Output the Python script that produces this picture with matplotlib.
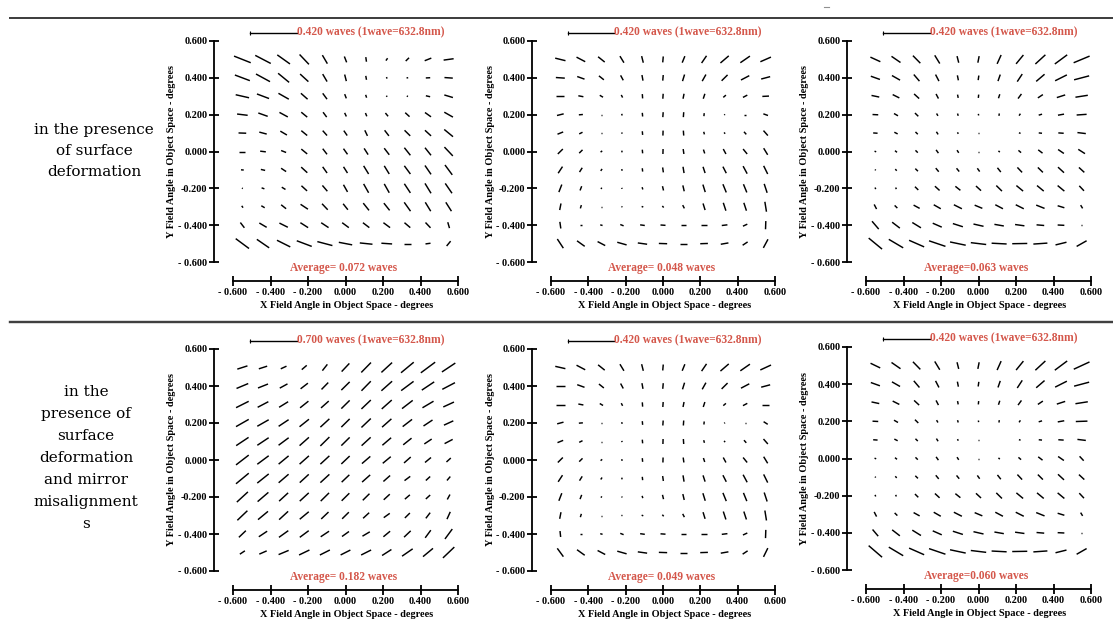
import matplotlib
matplotlib.use("Agg")
import matplotlib.pyplot as plt
import numpy as np
from matplotlib.collections import LineCollection
from matplotlib.lines import Line2D

# ---------------- data ----------------
X_FIELD = [-0.55, -0.44, -0.33, -0.22, -0.11, 0.0, 0.11, 0.22, 0.33, 0.44, 0.55]
Y_FIELD = [0.5, 0.4, 0.3, 0.2, 0.1, 0.0, -0.1, -0.2, -0.3, -0.4, -0.5]
TICKS = [-0.6, -0.4, -0.2, 0.0, 0.2, 0.4, 0.6]
X_TICK_LABELS = ["- 0.600", "- 0.400", "- 0.200", "0.000", "0.200", "0.400", "0.600"]
Y_TICK_LABELS = ["- 0.600", "- 0.400", "-0.200", "0.000", "0.200", "0.400", "0.600"]
SCALE_WAVES = [0.420, 0.420, 0.420, 0.700, 0.420, 0.420]
AVERAGES = ["Average= 0.072 waves", "Average= 0.048 waves", "Average=0.063 waves",
            "Average= 0.182 waves", "Average= 0.049 waves", "Average=0.060 waves"]
ROW_LABELS = ["in the presence\nof surface\ndeformation",
              "in the\npresence of\nsurface\ndeformation\nand mirror\nmisalignment\ns"]
X_LABEL = "X Field Angle in Object Space - degrees"
Y_LABEL = "Y Field Angle in Object Space - degrees"

# magnitudes (waves) and orientation (deg), rows top (y=0.5) -> bottom (y=-0.5)
P1_LEN = [
    [0.164, 0.160, 0.143, 0.125, 0.091, 0.058, 0.043, 0.027, 0.043, 0.065, 0.092],
    [0.146, 0.146, 0.131, 0.103, 0.080, 0.063, 0.037, 0.015, 0.015, 0.040, 0.076],
    [0.125, 0.118, 0.109, 0.082, 0.067, 0.042, 0.028, 0.012, 0.012, 0.040, 0.082],
    [0.097, 0.091, 0.087, 0.071, 0.056, 0.037, 0.033, 0.039, 0.054, 0.068, 0.091],
    [0.070, 0.070, 0.070, 0.070, 0.060, 0.055, 0.057, 0.065, 0.073, 0.076, 0.104],
    [0.055, 0.052, 0.049, 0.070, 0.065, 0.064, 0.068, 0.076, 0.089, 0.089, 0.112],
    [0.025, 0.040, 0.055, 0.076, 0.070, 0.068, 0.088, 0.088, 0.094, 0.099, 0.113],
    [0.009, 0.027, 0.040, 0.070, 0.070, 0.076, 0.094, 0.094, 0.101, 0.107, 0.110],
    [0.021, 0.036, 0.058, 0.081, 0.076, 0.070, 0.085, 0.085, 0.100, 0.096, 0.097],
    [0.061, 0.078, 0.086, 0.084, 0.081, 0.076, 0.074, 0.076, 0.070, 0.067, 0.057],
    [0.152, 0.137, 0.136, 0.146, 0.142, 0.124, 0.116, 0.098, 0.067, 0.046, 0.058],
]
P1_ANG = [
    [-22, -28, -36, -47, -60, -69, -82, 55, 45, 22, 8],
    [-21, -29, -40, -43, -60, -76, -80, -70, 10, 3, -4],
    [-13, -21, -30, -42, -54, -69, -72, -55, -30, -13, -17],
    [-7, -20, -29, -40, -54, -65, -68, -51, -43, -36, -30],
    [-2, -15, -31, -40, -49, -56, -65, -53, -45, -43, -40],
    [0, -7, -22, -40, -53, -55, -58, -53, -52, -52, -47],
    [-5, -13, -34, -43, -55, -58, -59, -59, -54, -56, -54],
    [-30, -20, -32, -43, -50, -61, -61, -61, -57, -59, -56],
    [-55, -31, -39, -34, -47, -52, -52, -52, -55, -59, -58],
    [-53, -31, -27, -33, -34, -37, -38, -37, -41, -47, -74],
    [-37, -35, -27, -21, -15, -11, -6, -4, 0, 8, 51],
]

P2_LEN = [
    [0.097, 0.090, 0.078, 0.071, 0.063, 0.055, 0.065, 0.081, 0.101, 0.107, 0.106],
    [0.082, 0.071, 0.058, 0.052, 0.053, 0.052, 0.064, 0.070, 0.077, 0.086, 0.085],
    [0.076, 0.047, 0.035, 0.027, 0.040, 0.046, 0.047, 0.048, 0.032, 0.045, 0.061],
    [0.063, 0.037, 0.009, 0.016, 0.034, 0.046, 0.046, 0.028, 0.009, 0.021, 0.045],
    [0.056, 0.034, 0.009, 0.012, 0.034, 0.046, 0.046, 0.025, 0.015, 0.032, 0.061],
    [0.065, 0.043, 0.019, 0.016, 0.034, 0.046, 0.046, 0.038, 0.052, 0.059, 0.071],
    [0.073, 0.047, 0.022, 0.016, 0.031, 0.046, 0.059, 0.061, 0.068, 0.079, 0.084],
    [0.075, 0.042, 0.014, 0.010, 0.022, 0.041, 0.056, 0.073, 0.082, 0.082, 0.087],
    [0.062, 0.032, 0.006, 0.010, 0.016, 0.019, 0.034, 0.064, 0.077, 0.077, 0.093],
    [0.062, 0.012, 0.022, 0.033, 0.043, 0.046, 0.046, 0.049, 0.052, 0.044, 0.076],
    [0.101, 0.087, 0.079, 0.089, 0.086, 0.076, 0.067, 0.070, 0.071, 0.055, 0.090],
]
P2_ANG = [
    [-14, -28, -39, -59, -76, 85, 68, 56, 41, 35, 24],
    [-4, -20, -39, -62, -80, 85, 73, 61, 45, 28, 15],
    [0, -11, -31, -63, -86, 86, 79, 72, 41, 28, 3],
    [14, 5, 0, -75, -85, 86, 86, 84, 45, 0, -20],
    [22, 27, 0, -75, -85, 88, -86, -75, -53, -49, -49],
    [45, 45, 39, -79, -85, 88, -82, -72, -62, -51, -59],
    [57, 58, 56, -79, -84, -82, -81, -72, -63, -62, -64],
    [69, 69, 63, -70, -74, -77, -77, -73, -68, -68, -72],
    [79, 73, 0, -20, -22, -51, -63, -73, -72, -72, -81],
    [-82, 0, -16, -22, -8, -4, 0, 0, 7, 25, 88],
    [-57, -36, -28, -16, -8, -2, 0, 2, 10, 34, 62],
]

P3_LEN = [
    [0.100, 0.100, 0.097, 0.089, 0.063, 0.062, 0.090, 0.106, 0.125, 0.141, 0.158],
    [0.088, 0.085, 0.080, 0.068, 0.047, 0.043, 0.064, 0.084, 0.101, 0.120, 0.142],
    [0.072, 0.068, 0.063, 0.048, 0.031, 0.031, 0.039, 0.053, 0.055, 0.080, 0.114],
    [0.052, 0.042, 0.043, 0.025, 0.022, 0.015, 0.022, 0.022, 0.032, 0.056, 0.091],
    [0.040, 0.034, 0.030, 0.029, 0.016, 0.006, 0.006, 0.016, 0.030, 0.049, 0.077],
    [0.016, 0.024, 0.030, 0.037, 0.029, 0.006, 0.017, 0.032, 0.050, 0.064, 0.073],
    [0.010, 0.020, 0.034, 0.043, 0.039, 0.037, 0.050, 0.063, 0.065, 0.075, 0.067],
    [0.016, 0.016, 0.043, 0.058, 0.059, 0.063, 0.073, 0.080, 0.080, 0.080, 0.063],
    [0.048, 0.035, 0.063, 0.074, 0.082, 0.076, 0.079, 0.082, 0.082, 0.064, 0.035],
    [0.095, 0.089, 0.093, 0.090, 0.096, 0.094, 0.087, 0.086, 0.070, 0.061, 0.012],
    [0.159, 0.153, 0.150, 0.158, 0.146, 0.141, 0.137, 0.137, 0.128, 0.103, 0.105],
]
P3_ANG = [
    [-25, -35, -46, -59, -76, 79, 66, 51, 43, 37, 23],
    [-20, -30, -50, -63, -79, 82, 71, 57, 41, 27, 15],
    [-12, -27, -43, -63, -79, 84, 72, 54, 34, 18, 9],
    [-3, -30, -45, -60, -74, -80, 82, 56, 17, 10, 4],
    [-4, -27, -45, -58, -68, 0, 0, -22, -6, -4, -7],
    [-20, -40, -45, -55, -58, 0, -45, -41, -38, -35, -33],
    [-55, -51, -45, -51, -51, -55, -52, -47, -45, -43, -43],
    [-68, -68, -45, -43, -39, -43, -45, -40, -40, -40, -47],
    [-63, -45, -29, -30, -27, -23, -28, -27, -22, -17, -59],
    [-50, -38, -32, -24, -18, -13, -10, -8, -5, -3, 0],
    [-40, -31, -24, -19, -12, -7, -3, 1, 4, 14, 30],
]

P4_LEN = [
    [0.162, 0.133, 0.096, 0.100, 0.123, 0.172, 0.212, 0.222, 0.252, 0.272, 0.245],
    [0.193, 0.164, 0.134, 0.141, 0.147, 0.179, 0.204, 0.219, 0.236, 0.227, 0.218],
    [0.215, 0.184, 0.162, 0.163, 0.158, 0.179, 0.198, 0.205, 0.206, 0.196, 0.179],
    [0.223, 0.200, 0.183, 0.184, 0.187, 0.179, 0.198, 0.191, 0.181, 0.165, 0.157],
    [0.227, 0.208, 0.192, 0.191, 0.194, 0.179, 0.188, 0.176, 0.163, 0.135, 0.139],
    [0.245, 0.217, 0.198, 0.191, 0.187, 0.176, 0.169, 0.159, 0.137, 0.119, 0.090],
    [0.253, 0.224, 0.200, 0.187, 0.187, 0.162, 0.165, 0.137, 0.109, 0.090, 0.079],
    [0.230, 0.217, 0.187, 0.187, 0.179, 0.165, 0.144, 0.126, 0.101, 0.090, 0.086],
    [0.212, 0.198, 0.187, 0.179, 0.154, 0.144, 0.126, 0.113, 0.108, 0.109, 0.123],
    [0.147, 0.153, 0.175, 0.170, 0.153, 0.131, 0.130, 0.133, 0.140, 0.145, 0.189],
    [0.092, 0.123, 0.166, 0.175, 0.170, 0.166, 0.170, 0.169, 0.197, 0.198, 0.240],
]
P4_ANG = [
    [18, 18, 25, 41, 52, 47, 46, 43, 40, 37, 34],
    [23, 22, 29, 38, 46, 45, 46, 42, 37, 34, 28],
    [27, 28, 32, 39, 42, 45, 44, 42, 38, 31, 25],
    [30, 30, 34, 39, 43, 45, 44, 42, 38, 34, 25],
    [34, 34, 37, 42, 45, 45, 43, 41, 39, 34, 28],
    [38, 37, 40, 42, 43, 44, 41, 40, 42, 40, 43],
    [40, 39, 41, 43, 43, 44, 42, 42, 37, 43, 50],
    [43, 41, 43, 43, 45, 45, 45, 43, 41, 43, 62],
    [44, 40, 43, 40, 44, 45, 43, 36, 45, 53, 66],
    [44, 34, 36, 37, 34, 36, 31, 40, 44, 54, 54],
    [34, 24, 23, 26, 27, 27, 27, 33, 35, 40, 44],
]

P5_LEN = [
    [0.095, 0.090, 0.078, 0.071, 0.063, 0.055, 0.065, 0.081, 0.101, 0.107, 0.108],
    [0.082, 0.071, 0.058, 0.052, 0.053, 0.052, 0.064, 0.070, 0.077, 0.086, 0.085],
    [0.080, 0.047, 0.035, 0.027, 0.040, 0.046, 0.047, 0.048, 0.032, 0.045, 0.058],
    [0.060, 0.037, 0.009, 0.016, 0.034, 0.046, 0.046, 0.028, 0.009, 0.010, 0.045],
    [0.056, 0.034, 0.009, 0.012, 0.034, 0.046, 0.046, 0.025, 0.015, 0.032, 0.061],
    [0.065, 0.043, 0.019, 0.016, 0.034, 0.046, 0.046, 0.038, 0.052, 0.059, 0.071],
    [0.073, 0.047, 0.022, 0.016, 0.031, 0.046, 0.059, 0.061, 0.068, 0.079, 0.084],
    [0.075, 0.042, 0.014, 0.010, 0.022, 0.041, 0.056, 0.073, 0.082, 0.082, 0.087],
    [0.062, 0.032, 0.006, 0.010, 0.016, 0.019, 0.034, 0.064, 0.077, 0.077, 0.093],
    [0.055, 0.012, 0.022, 0.033, 0.043, 0.046, 0.046, 0.049, 0.052, 0.044, 0.076],
    [0.095, 0.087, 0.079, 0.089, 0.086, 0.076, 0.067, 0.070, 0.071, 0.055, 0.090],
]
P5_ANG = [
    [-13, -28, -39, -59, -76, 85, 68, 56, 41, 35, 25],
    [0, -20, -39, -62, -80, 85, 73, 61, 45, 28, 15],
    [0, -11, -31, -63, -86, 86, 79, 72, 41, 28, 0],
    [15, 5, 0, -75, -85, 86, 86, 84, 45, 0, -33],
    [22, 27, 0, -75, -85, 88, -86, -75, -53, -49, -49],
    [45, 45, 39, -79, -85, 88, -82, -72, -62, -51, -59],
    [57, 58, 56, -79, -84, -82, -81, -72, -63, -62, -64],
    [69, 69, 63, -70, -74, -77, -77, -73, -68, -68, -72],
    [79, 73, 0, -20, -22, -51, -63, -73, -72, -72, -81],
    [-84, 0, -16, -22, -8, -4, 0, 0, 7, 25, 88],
    [-54, -36, -28, -16, -8, -2, 0, 2, 10, 34, 64],
]

P6_LEN = [
    [0.098, 0.100, 0.097, 0.089, 0.063, 0.062, 0.090, 0.106, 0.125, 0.141, 0.158],
    [0.088, 0.085, 0.080, 0.068, 0.047, 0.043, 0.064, 0.084, 0.101, 0.120, 0.142],
    [0.072, 0.068, 0.063, 0.048, 0.031, 0.031, 0.039, 0.053, 0.055, 0.080, 0.114],
    [0.052, 0.042, 0.043, 0.025, 0.022, 0.015, 0.022, 0.022, 0.032, 0.060, 0.106],
    [0.040, 0.034, 0.030, 0.029, 0.016, 0.006, 0.006, 0.016, 0.030, 0.049, 0.077],
    [0.016, 0.024, 0.030, 0.037, 0.029, 0.006, 0.017, 0.032, 0.050, 0.064, 0.055],
    [0.010, 0.020, 0.034, 0.043, 0.039, 0.037, 0.050, 0.063, 0.065, 0.075, 0.067],
    [0.016, 0.016, 0.043, 0.058, 0.059, 0.063, 0.073, 0.080, 0.080, 0.080, 0.063],
    [0.048, 0.035, 0.063, 0.074, 0.082, 0.076, 0.079, 0.082, 0.082, 0.064, 0.035],
    [0.080, 0.089, 0.093, 0.090, 0.096, 0.094, 0.087, 0.086, 0.070, 0.061, 0.012],
    [0.162, 0.153, 0.150, 0.158, 0.146, 0.141, 0.137, 0.137, 0.128, 0.103, 0.105],
]
P6_ANG = [
    [-26, -35, -46, -59, -76, 79, 66, 51, 43, 37, 25],
    [-20, -30, -50, -63, -79, 82, 71, 57, 41, 27, 15],
    [-12, -27, -43, -63, -79, 84, 72, 54, 34, 18, 9],
    [-3, -30, -45, -60, -74, -80, 82, 56, 17, 10, 2],
    [-4, -27, -45, -58, -68, 0, 0, -22, -6, -4, -7],
    [-20, -40, -45, -55, -58, 0, -45, -41, -38, -35, -47],
    [-55, -51, -45, -51, -51, -55, -52, -47, -45, -43, -43],
    [-68, -68, -45, -43, -39, -43, -45, -40, -40, -40, -47],
    [-63, -45, -29, -30, -27, -23, -28, -27, -22, -17, -59],
    [-50, -38, -32, -24, -18, -13, -10, -8, -5, -3, 0],
    [-41, -31, -24, -19, -12, -7, -3, 1, 4, 14, 30],
]

PANEL_LEN = [P1_LEN, P2_LEN, P3_LEN, P4_LEN, P5_LEN, P6_LEN]
PANEL_ANG = [P1_ANG, P2_ANG, P3_ANG, P4_ANG, P5_ANG, P6_ANG]

# ---------------- layout / style ----------------
W, H = 1113, 619
RED = "#d4574b"
SERIF = ["Liberation Serif", "DejaVu Serif"]
ROW_FONT = ["DejaVu Serif"]
# axes boxes in pixels: left, top, width, height
BOXES = [(233, 41, 225, 221), (551, 41, 224, 221), (866, 41, 225, 221),
         (233, 349, 225, 222), (551, 349, 224, 222), (866, 347, 225, 223)]
BAR_X0 = -0.507
BAR_LEN = 0.246  # data units of the reference bar

fig = plt.figure(figsize=(W / 100, H / 100), dpi=100)

for k, (l, t, w, h) in enumerate(BOXES):
    ax = fig.add_axes([l / W, 1 - (t + h) / H, w / W, h / H])
    ax.set_xlim(-0.6, 0.6)
    ax.set_ylim(-0.6, 0.6)
    for s in ("top", "right"):
        ax.spines[s].set_visible(False)
    ax.spines["left"].set_position(("outward", 13.7))
    ax.spines["bottom"].set_position(("outward", 13.7))
    for s in ("left", "bottom"):
        ax.spines[s].set_linewidth(1.3)
    ax.set_xticks(TICKS)
    ax.set_yticks(TICKS)
    ax.set_xticklabels(X_TICK_LABELS, fontfamily=SERIF, fontweight="bold", fontsize=7.4)
    ax.set_yticklabels(Y_TICK_LABELS, fontfamily=SERIF, fontweight="bold", fontsize=7.4)
    ax.tick_params(axis="both", direction="inout", length=7, width=1.3, pad=1.2)
    ax.patch.set_alpha(0)

    ax.text(0.507, -0.195, X_LABEL, transform=ax.transAxes, ha="center", va="center",
            fontfamily=SERIF, fontweight="bold", fontsize=7.4)
    ax.text(-0.272, 0.5, Y_LABEL, transform=ax.transAxes, ha="center", va="center",
            rotation=90, fontfamily=SERIF, fontweight="bold", fontsize=7.4)

    # field map segments
    scale = BAR_LEN / SCALE_WAVES[k]
    lens = np.array(PANEL_LEN[k]) * scale
    angs = np.deg2rad(np.array(PANEL_ANG[k]))
    xx, yy = np.meshgrid(np.array(X_FIELD), np.array(Y_FIELD))
    dx = 0.5 * lens * np.cos(angs)
    dy = 0.5 * lens * np.sin(angs)
    segs = np.stack([np.stack([xx - dx, yy - dy], -1), np.stack([xx + dx, yy + dy], -1)], axis=2)
    ax.add_collection(LineCollection(segs.reshape(-1, 2, 2), colors="black", linewidths=1.05,
                                     capstyle="butt"))

    # scale bar & labels
    ybar = 0.645
    ax.plot([BAR_X0, BAR_X0 + BAR_LEN], [ybar, ybar], color="black", lw=1.0, clip_on=False)
    ax.plot([BAR_X0], [ybar], marker="|", ms=3, color="black", mew=0.8, clip_on=False)
    ax.text(BAR_X0 + BAR_LEN, ybar, f"{SCALE_WAVES[k]:.3f} waves (1wave=632.8nm)",
            color=RED, ha="left", va="center", fontfamily=SERIF, fontweight="bold",
            fontsize=8.3, clip_on=False)
    ax.text(-0.01, -0.633, AVERAGES[k], color=RED, ha="center", va="center",
            fontfamily=SERIF, fontweight="bold", fontsize=8.3, clip_on=False)

# separators
for yy_px, lw in ((18, 2.0), (322, 2.4)):
    fig.add_artist(Line2D([10 / W, 1.0], [1 - yy_px / H] * 2, color="#404040", lw=lw * 0.72))
fig.add_artist(Line2D([824 / W, 829 / W], [1 - 7 / H] * 2, color="#909090", lw=0.8))

# row descriptions
fig.text(94 / W, 1 - 151 / H, ROW_LABELS[0], ha="center", va="center", fontfamily=ROW_FONT,
         fontsize=11, linespacing=1.66)
fig.text(86 / W, 1 - 458 / H, ROW_LABELS[1], ha="center", va="center", fontfamily=ROW_FONT,
         fontsize=11, linespacing=1.74)

fig.savefig("out.png", dpi=100)
